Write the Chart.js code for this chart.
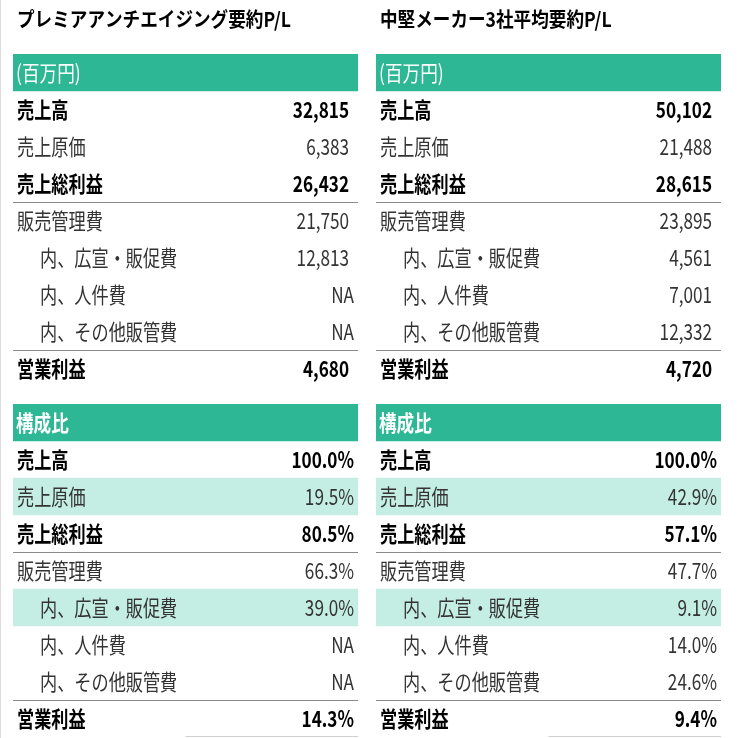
<!DOCTYPE html>
<html>
<head>
<meta charset="utf-8">
<script src="https://cdn.jsdelivr.net/npm/chart.js@4.4.1/dist/chart.umd.min.js"></script>
<style>
  html, body { margin: 0; padding: 0; background: #fff; }
  #page { position: relative; width: 738px; height: 738px; overflow: hidden; border-left: 1px solid #dcdcdc; box-sizing: border-box; }
  .box { position: absolute; }
</style>
</head>
<body>
<div id="page">
  <div class="box" style="left:12px; top:0; width:345px; height:387px;"><canvas id="premiumAmt"></canvas></div>
  <div class="box" style="left:12px; top:404px; width:345px; height:334px;"><canvas id="premiumPct"></canvas></div>
  <div class="box" style="left:375px; top:0; width:345px; height:387px;"><canvas id="midAmt"></canvas></div>
  <div class="box" style="left:375px; top:404px; width:345px; height:334px;"><canvas id="midPct"></canvas></div>
</div>
<script>
const panelTitles = ['プレミアアンチエイジング要約P/L', '中堅メーカー3社平均要約P/L'];
const blockHeaders = ['(百万円)', '構成比'];
const rowLabels = ['売上高', '売上原価', '売上総利益', '販売管理費', '内、広宣・販促費', '内、人件費', '内、その他販管費', '営業利益'];
const boldRows = [true, false, true, false, false, false, false, true];
const indentRows = [false, false, false, false, true, true, true, false];
const lineAboveRows = [3, 7];
const highlightRows = [1, 4];

// 百万円
const premiumAmounts = [32815, 6383, 26432, 21750, 12813, null, null, 4680];
const midAmounts = [50102, 21488, 28615, 23895, 4561, 7001, 12332, 4720];
// 構成比 (%)
const premiumRatios = [100.0, 19.5, 80.5, 66.3, 39.0, null, null, 14.3];
const midRatios = [100.0, 42.9, 57.1, 47.7, 9.1, 14.0, 24.6, 9.4];

const GREEN = '#2db795';
const LIGHT = '#c4eee3';
const FONT = '"Noto Sans CJK JP", "Noto Sans", sans-serif';

function drawText(ctx, str, x, y, align, font, color, sx) {
  ctx.save();
  ctx.translate(x, y);
  ctx.scale(sx, 1);
  ctx.font = font;
  ctx.fillStyle = color;
  ctx.textAlign = align;
  ctx.textBaseline = 'middle';
  ctx.fillText(str, 0, 0);
  ctx.restore();
}

const tablePlugin = {
  id: 'tableText',
  afterDatasetsDraw(chart, args, opts) {
    const { ctx, chartArea, scales } = chart;
    const y = scales.y;
    const rowH = y.getPixelForValue(1) - y.getPixelForValue(0);

    if (opts.title) {
      drawText(ctx, opts.title, chartArea.left + 4, 19, 'left', 'bold 20px ' + FONT, '#000', 0.88);
    }

    // header row
    drawText(ctx, opts.header, chartArea.left + 3, y.getPixelForValue(0), 'left',
      (opts.headerBold ? 'bold ' : '') + '22px ' + FONT, '#fff', 0.8);

    rowLabels.forEach((label, i) => {
      const py = y.getPixelForValue(i + 1);
      const bold = boldRows[i];
      const color = bold ? '#000' : '#333';
      const font = (bold ? 'bold ' : '') + '22px ' + FONT;
      drawText(ctx, label, chartArea.left + (indentRows[i] ? 27 : 4), py, 'left', font, color, 0.78);

      const v = opts.values[i];
      let txt, pad;
      if (v === null) { txt = 'NA'; pad = 4; }
      else if (opts.percent) { txt = v.toFixed(1) + '%'; pad = 4; }
      else { txt = v.toLocaleString('en-US'); pad = 9; }
      drawText(ctx, txt, chartArea.right - pad, py, 'right', font, color, 0.78);
    });

    ctx.save();
    ctx.strokeStyle = '#8a8a8a';
    ctx.lineWidth = 1;
    lineAboveRows.forEach((r) => {
      const ly = Math.round(y.getPixelForValue(r + 1) - rowH / 2) + 0.5;
      ctx.beginPath();
      ctx.moveTo(chartArea.left, ly);
      ctx.lineTo(chartArea.right, ly);
      ctx.stroke();
    });
    if (opts.bottomLine) {
      const by = Math.round(y.getPixelForValue(rowLabels.length) + rowH / 2) - 0.5;
      ctx.strokeStyle = '#d0d0d0';
      ctx.beginPath();
      ctx.moveTo((chartArea.left + chartArea.right) / 2, by);
      ctx.lineTo(chartArea.right, by);
      ctx.stroke();
    }
    ctx.restore();
  }
};

function makeBlock(id, opts) {
  const cats = [opts.header].concat(rowLabels);
  const fills = cats.map((_, i) => {
    if (i === 0) return [0, 1];
    return opts.highlight.includes(i - 1) ? [0, 1] : null;
  });
  const colors = cats.map((_, i) => (i === 0 ? GREEN : LIGHT));
  new Chart(document.getElementById(id), {
    type: 'bar',
    data: {
      labels: cats,
      datasets: [{
        data: fills,
        backgroundColor: colors,
        borderWidth: 0,
        barPercentage: 1,
        categoryPercentage: 1,
      }],
    },
    options: {
      indexAxis: 'y',
      responsive: true,
      maintainAspectRatio: false,
      animation: false,
      layout: { padding: { top: opts.title ? 54 : 0, bottom: opts.title ? 0 : 1, left: 0, right: 0 } },
      scales: {
        x: { type: 'linear', min: 0, max: 1, display: false },
        y: { type: 'category', display: false, offset: true },
      },
      plugins: {
        legend: { display: false },
        tooltip: { enabled: false },
        tableText: opts,
      },
    },
    plugins: [tablePlugin],
  });
}

makeBlock('premiumAmt', { title: panelTitles[0], header: blockHeaders[0], values: premiumAmounts, percent: false, highlight: [] });
makeBlock('premiumPct', { header: blockHeaders[1], headerBold: true, values: premiumRatios, percent: true, highlight: highlightRows, bottomLine: true });
makeBlock('midAmt', { title: panelTitles[1], header: blockHeaders[0], values: midAmounts, percent: false, highlight: [] });
makeBlock('midPct', { header: blockHeaders[1], headerBold: true, values: midRatios, percent: true, highlight: highlightRows, bottomLine: true });
</script>
</body>
</html>
